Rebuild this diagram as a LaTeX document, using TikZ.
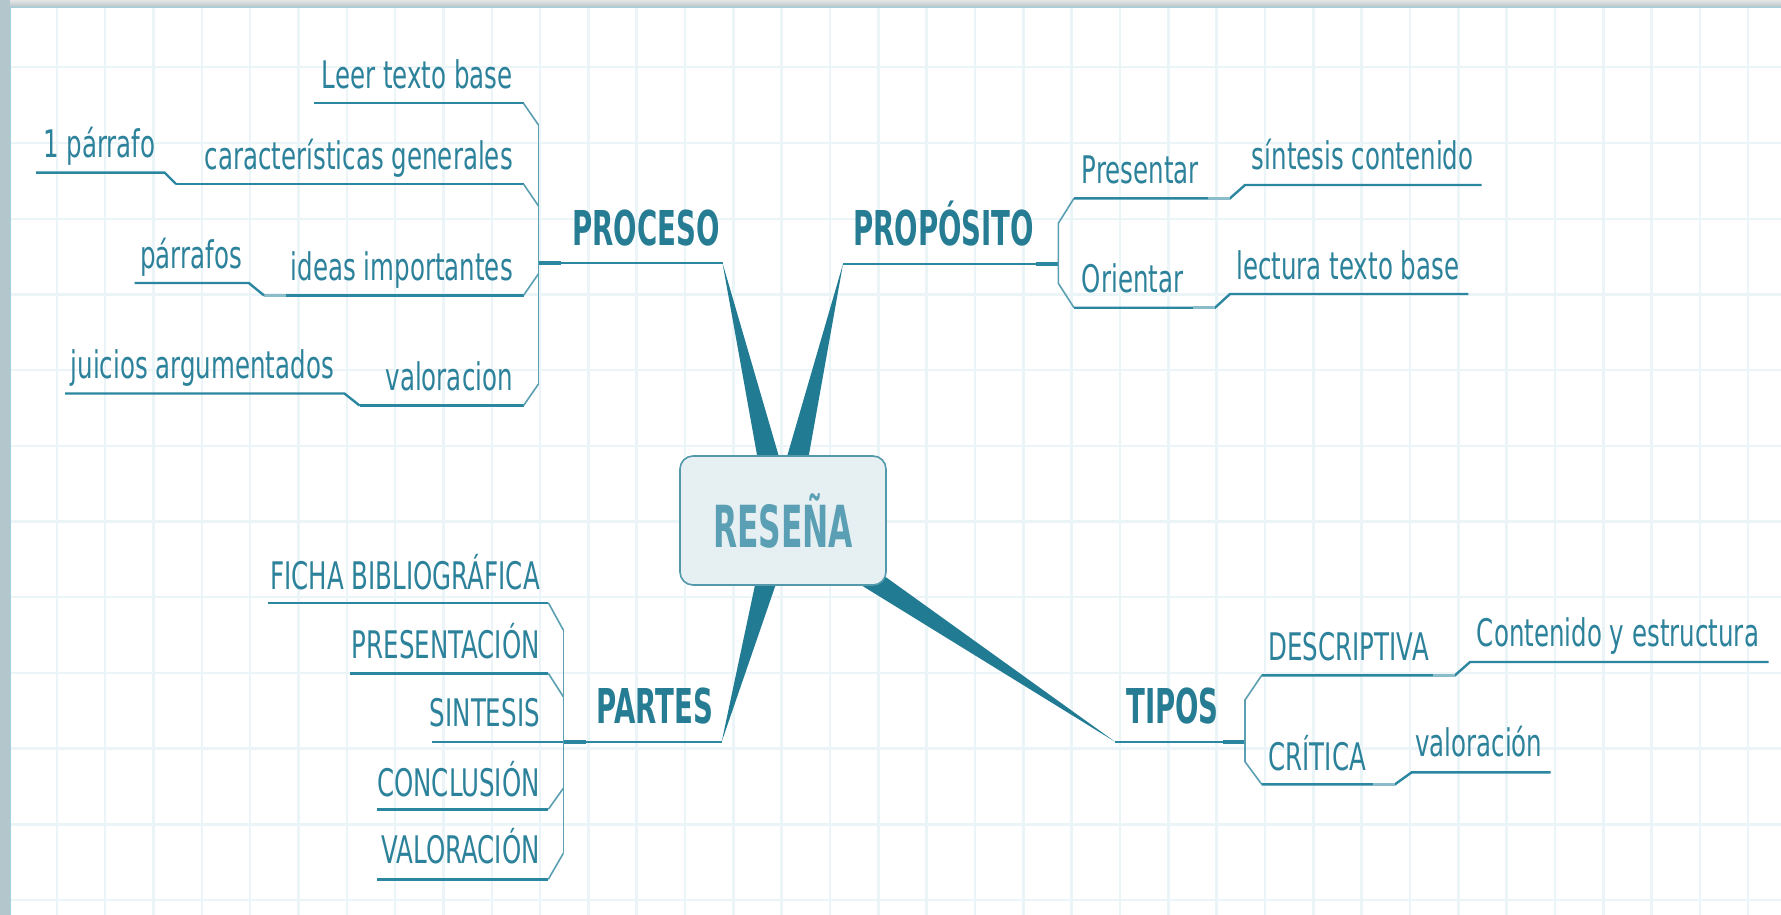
\documentclass[tikz,border=0pt]{standalone}
\usepackage{fontspec}
\setmainfont{DejaVu Sans}[FakeStretch=0.645]
\newfontfamily\hdf{DejaVu Sans}[FakeStretch=0.575]
\newfontfamily\cnf{DejaVu Sans}[FakeStretch=0.54]
\usetikzlibrary{calc}
\definecolor{txt}{HTML}{2D829B}
\definecolor{hdc}{HTML}{267C93}
\definecolor{lnc}{HTML}{2B86A0}
\definecolor{brc}{HTML}{5A9FB2}
\definecolor{spc}{HTML}{217C93}
\definecolor{boxf}{HTML}{E6EFF2}
\definecolor{boxd}{HTML}{5398AB}
\definecolor{cent}{HTML}{5A9FB3}
\definecolor{gridc}{HTML}{EBF4F7}
\definecolor{lftc}{HTML}{B3C6CB}
\definecolor{edgec}{HTML}{A3CFDC}
\tikzset{
  reg/.style={font=\fontsize{38}{40}\selectfont, text=txt, inner sep=0pt},
  hd/.style={font=\hdf\bfseries\fontsize{48}{50}\selectfont, text=hdc, inner sep=0pt},
  uline/.style={draw=lnc, line width=2.4pt},
  brk/.style={draw=brc, line width=1.6pt},
  stub/.style={draw=lnc, line width=4pt},
  softstub/.style={draw=brc!70, line width=3.5pt},
  spoke/.style={fill=spc},
  gridline/.style={draw=gridc, line width=2.4pt},
  centre/.style={draw=boxd, fill=boxf, line width=1.6pt, rounded corners=13pt,
    minimum width=206pt, minimum height=129pt, inner sep=0pt,
    font=\cnf\bfseries\fontsize{58}{60}\selectfont, text=cent}
}
\begin{document}
\begin{tikzpicture}[x=1pt,y=-1pt]
\useasboundingbox (0,0) rectangle (1781,915);
\fill[white] (0,0) rectangle (1781,915);
% grid
\foreach \k in {0,...,36} { \draw[gridline] ({8.4+48.33*\k},0) -- ({8.4+48.33*\k},915); }
\foreach \k in {0,...,11} { \draw[gridline] (0,{67.3+75.7*\k}) -- (1781,{67.3+75.7*\k}); }
% frame strips
\shade[top color=gray!20, bottom color=lftc] (0,0) rectangle (1781,7);
\draw[edgec, line width=1pt] (9.5,7.5) -- (1781,7.5);
\fill[lftc] (0,0) rectangle (10,915);
\draw[edgec, line width=1pt] (10.5,7) -- (10.5,915);

% centre
\coordinate (c) at (783,520.5);
\coordinate (pT) at (722.5,263);
\coordinate (qT) at (843,264);
\coordinate (rT) at (721.7,741.7);
\coordinate (tT) at (1115,741.7);
\foreach \tip in {pT,qT,rT,tT} {
  \fill[spoke] (\tip) -- ($(c)!14pt!90:(\tip)$) -- ($(c)!14pt!-90:(\tip)$) -- cycle;
}
\node[centre] (resena) at (c) {RESEÑA};

% ===== PROCESO =====
\node[hd, anchor=base west] (proceso) at (572,245) {PROCESO};
\coordinate (pA) at (538.5,263);
\draw[uline] (pA) -- (pT);
\draw[stub] (pA) -- ++(22,0);
% items
\node[reg, anchor=base east] (leer) at (513,88.3) {Leer texto base};
\coordinate (p1a) at (314,103.3); \coordinate (p1b) at (523.5,103.3); \coordinate (p1c) at (538.5,125);
\draw[uline] (p1a) -- (p1b); \draw[brk] (p1b) -- (p1c);

\node[reg, anchor=base east] (caract) at (513,169) {características generales};
\coordinate (p2a) at (176,184); \coordinate (p2b) at (523.5,184); \coordinate (p2c) at (538.5,206);
\draw[uline] (p2a) -- (p2b); \draw[brk] (p2b) -- (p2c);
\node[reg, anchor=base west] (parr1) at (43,157.7) {1 párrafo};
\coordinate (s1a) at (36,172.7); \coordinate (s1b) at (164.7,172.7);
\draw[uline] (s1a) -- (s1b) -- (p2a);

\node[reg, anchor=base east] (ideas) at (513,280.4) {ideas importantes};
\coordinate (p3a) at (264,295.4); \coordinate (p3b) at (523.5,295.4); \coordinate (p3c) at (538.5,273.8);
\draw[uline] (p3a) -- (p3b); \draw[brk] (p3b) -- (p3c);
\draw[softstub] (p3a) -- ++(22,0);
\node[reg, anchor=base west] (parrs) at (140,268) {párrafos};
\coordinate (s2a) at (134.7,283); \coordinate (s2b) at (248.8,283);
\draw[uline] (s2a) -- (s2b) -- (p3a);

\node[reg, anchor=base east] (valor) at (513,390.6) {valoracion};
\coordinate (p4a) at (359.7,405.6); \coordinate (p4b) at (523.5,405.6); \coordinate (p4c) at (538.5,384);
\draw[uline] (p4a) -- (p4b); \draw[brk] (p4b) -- (p4c);
\node[reg, anchor=base west] (juicios) at (70.5,378.5) {juicios argumentados};
\coordinate (s3a) at (65,393.5); \coordinate (s3b) at (344.4,393.5);
\draw[uline] (s3a) -- (s3b) -- (p4a);
\draw[brk] (p1c) -- (p4c);

% ===== PROPOSITO =====
\node[hd, anchor=base west] (proposito) at (853,245) {PROPÓSITO};
\coordinate (qA) at (1058.3,264);
\draw[uline] (qT) -- (qA);
\draw[stub] (qA) -- ++(-22,0);
\coordinate (q1c) at (1058.3,223.3); \coordinate (q1b) at (1074,198.3);
\coordinate (q2c) at (1058.3,283.3); \coordinate (q2b) at (1074,307.7);
\draw[brk] (q1b) -- (q1c) -- (q2c) -- (q2b);
\node[reg, anchor=base west] (present) at (1081.7,183.3) {Presentar};
\coordinate (q1d) at (1230,198.3); \coordinate (q1e) at (1245,185); \coordinate (q1f) at (1481.7,185);
\draw[uline] (q1b) -- (q1d) -- (q1e) -- (q1f);
\draw[softstub] (q1d) -- ++(-22,0);
\node[reg, anchor=base west] (sintc) at (1251.7,170) {síntesis contenido};
\node[reg, anchor=base west] (orient) at (1081.7,292.7) {Orientar};
\coordinate (q2d) at (1215,307.7); \coordinate (q2e) at (1230,294); \coordinate (q2f) at (1468.3,294);
\draw[uline] (q2b) -- (q2d) -- (q2e) -- (q2f);
\draw[softstub] (q2d) -- ++(-22,0);
\node[reg, anchor=base west] (lect) at (1236,279) {lectura texto base};

% ===== PARTES =====
\node[hd, anchor=base west] (partes) at (596.7,723.3) {PARTES};
\coordinate (rA) at (563.3,741.7);
\draw[uline] (rA) -- (rT);
\draw[stub] (rA) -- ++(23,0);
\node[reg, anchor=base east] (ficha) at (540,589.3) {FICHA BIBLIOGRÁFICA};
\coordinate (r1a) at (268.3,602.7); \coordinate (r1b) at (548.3,602.7); \coordinate (r1c) at (563.3,630);
\draw[uline] (r1a) -- (r1b); \draw[brk] (r1b) -- (r1c);
\node[reg, anchor=base east] (presen) at (540,658.3) {PRESENTACIÓN};
\coordinate (r2a) at (350,673.3); \coordinate (r2b) at (548.3,673.3); \coordinate (r2c) at (563.3,696.7);
\draw[uline] (r2a) -- (r2b); \draw[brk] (r2b) -- (r2c);
\node[reg, anchor=base east] (sintesis) at (540,726.7) {SINTESIS};
\coordinate (r3a) at (431.7,741.7);
\draw[uline] (r3a) -- (rA);
\node[reg, anchor=base east] (concl) at (540,796) {CONCLUSIÓN};
\coordinate (r4a) at (377.3,809.3); \coordinate (r4b) at (548.3,809.3); \coordinate (r4c) at (563.3,788.3);
\draw[uline] (r4a) -- (r4b); \draw[brk] (r4b) -- (r4c);
\node[reg, anchor=base east] (valorp) at (540,863.3) {VALORACIÓN};
\coordinate (r5a) at (377.3,879.3); \coordinate (r5b) at (548.3,879.3); \coordinate (r5c) at (563.3,853.3);
\draw[uline] (r5a) -- (r5b); \draw[brk] (r5b) -- (r5c);
\draw[brk] (r1c) -- (r5c);

% ===== TIPOS =====
\node[hd, anchor=base west] (tipos) at (1126,723.3) {TIPOS};
\coordinate (tA) at (1245,741.7);
\draw[uline] (tT) -- (tA);
\draw[stub] (tA) -- ++(-22,0);
\coordinate (t1c) at (1245,700); \coordinate (t1b) at (1261.7,675.3);
\coordinate (t2c) at (1245,761.7); \coordinate (t2b) at (1261.7,784.3);
\draw[brk] (t1b) -- (t1c) -- (t2c) -- (t2b);
\node[reg, anchor=base west] (descr) at (1268.3,660) {DESCRIPTIVA};
\coordinate (t1d) at (1455,675.3); \coordinate (t1e) at (1470,662); \coordinate (t1f) at (1768.6,662);
\draw[uline] (t1b) -- (t1d) -- (t1e) -- (t1f);
\draw[softstub] (t1d) -- ++(-22,0);
\node[reg, anchor=base west] (conte) at (1476.7,646.7) {Contenido y estructura};
\node[reg, anchor=base west] (critica) at (1268.3,770) {CRÍTICA};
\coordinate (t2d) at (1395,784.3); \coordinate (t2e) at (1411.7,772.3); \coordinate (t2f) at (1550.6,772.3);
\draw[uline] (t2b) -- (t2d) -- (t2e) -- (t2f);
\draw[softstub] (t2d) -- ++(-22,0);
\node[reg, anchor=base west] (valt) at (1415,756.7) {valoración};
\end{tikzpicture}
\end{document}
